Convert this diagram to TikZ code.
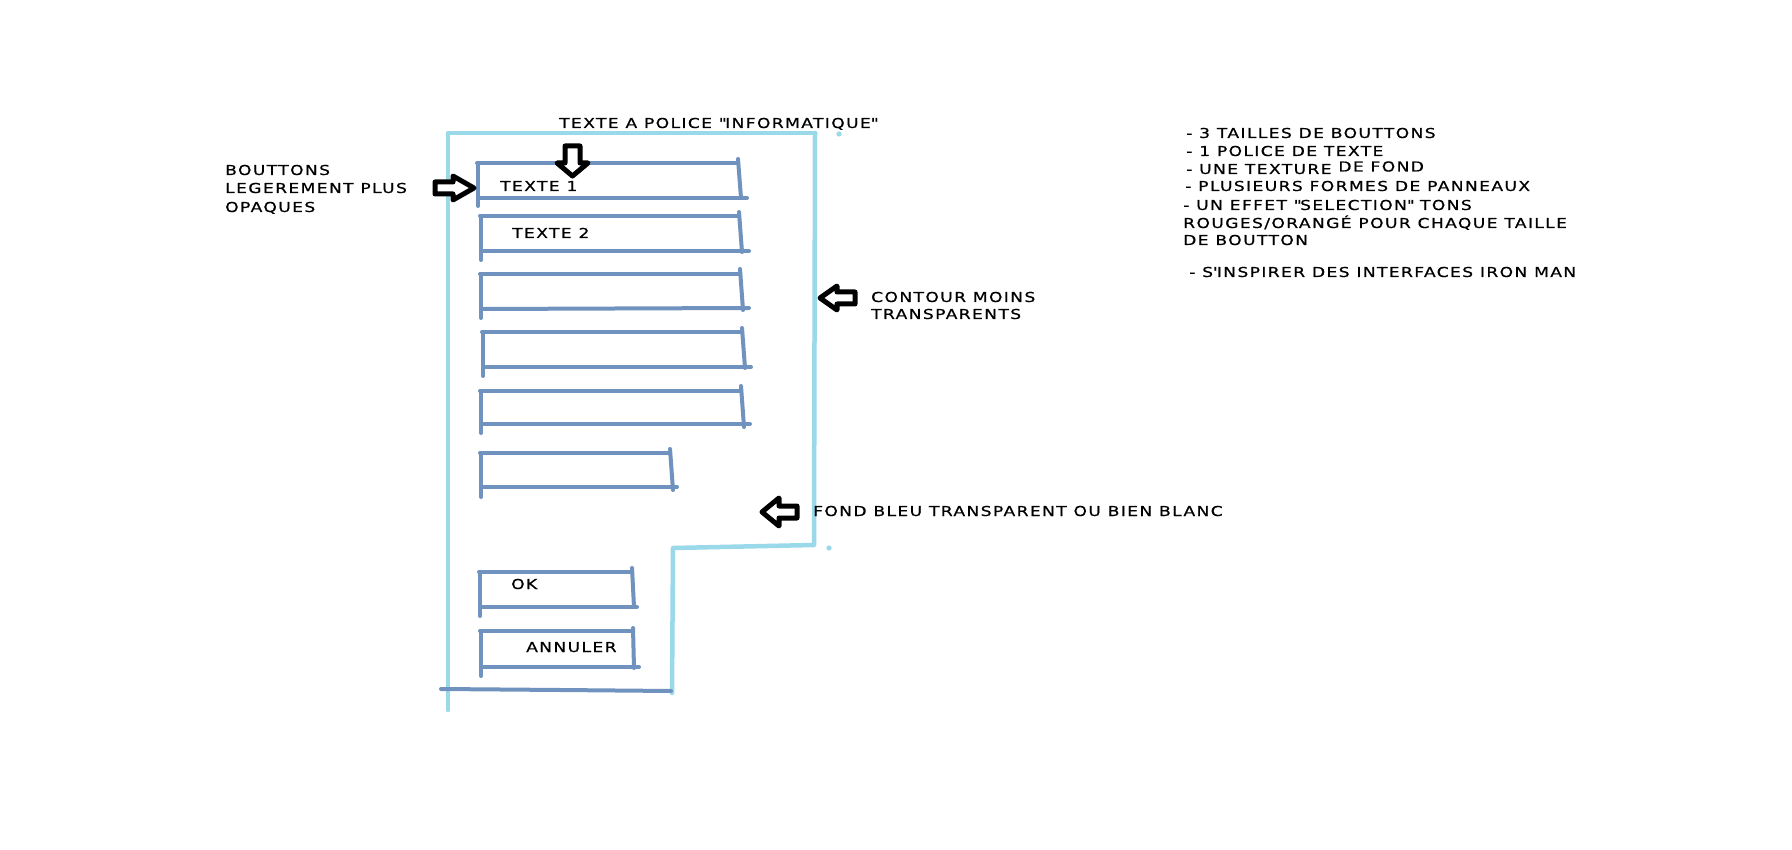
\documentclass[tikz,border=0pt]{standalone}
\usepackage{fontspec}
\setmainfont{DejaVu Sans}[FakeStretch=1.25,LetterSpace=10,FakeBold=0.6]
\definecolor{panelblue}{RGB}{153,217,234}
\definecolor{btnblue}{RGB}{112,146,190}
\tikzset{
  lbl/.style={anchor=west,inner sep=0pt,text height=10pt,text depth=0pt,font=\fontsize{13.7}{16}\selectfont,text=black},
  panel/.style={draw=panelblue,line width=4.5pt,line cap=round,line join=round},
  btn/.style={draw=btnblue,line width=4pt,line cap=round,line join=round},
  blockarrow/.style={draw=black,fill=white,line width=5pt,line join=round},
  dotmark/.style={fill=panelblue}
}
\newcommand{\qd}{\textquotedbl}
\begin{document}
\begin{tikzpicture}[x=1pt,y=-1pt]
\useasboundingbox (0,0) rectangle (1792,850);
\fill[white] (0,0) rectangle (1792,850);

% outer panel
\coordinate (p1) at (448,133);
\coordinate (p2) at (815,133);
\coordinate (p3) at (814,545);
\coordinate (p4) at (673,548);
\coordinate (p5) at (672,693);
\coordinate (p6) at (448,710);
\draw[panel] (p6) -- (p1) -- (p2);
\draw[panel] (p2) -- (p3) -- (p4) -- (p5);
\fill[dotmark] (839,134) circle (2.6);
\fill[dotmark] (829,548) circle (2.6);
\draw[btn] (441,689) -- (560,690) -- (671,691);

% buttons
% B1
\draw[btn] (477,163) -- (738,163);
\draw[btn] (738,159) -- (741,198);
\draw[btn] (478,198) -- (747,198);
\draw[btn] (478,163) -- (478,206);
% B2
\draw[btn] (480,216) -- (739,216);
\draw[btn] (739,212) -- (742,252);
\draw[btn] (481,251) -- (749,251);
\draw[btn] (481,216) -- (481,260);
% B3
\draw[btn] (480,274) -- (740,274);
\draw[btn] (740,269) -- (743,310);
\draw[btn] (481,309) -- (749,308);
\draw[btn] (481,274) -- (481,318);
% B4
\draw[btn] (482,332) -- (742,332);
\draw[btn] (742,328) -- (745,368);
\draw[btn] (483,367) -- (751,367);
\draw[btn] (483,332) -- (483,376);
% B5
\draw[btn] (480,391) -- (741,391);
\draw[btn] (741,386) -- (744,427);
\draw[btn] (481,424) -- (750,424);
\draw[btn] (481,391) -- (481,433);
% B6
\draw[btn] (480,453) -- (670,453);
\draw[btn] (670,449) -- (673,490);
\draw[btn] (481,487) -- (677,487);
\draw[btn] (481,453) -- (481,497);
% OK
\draw[btn] (479,572) -- (632,572);
\draw[btn] (632,568) -- (634,607);
\draw[btn] (480,607) -- (637,607);
\draw[btn] (480,572) -- (480,616);
% ANNULER
\draw[btn] (480,631) -- (632,631);
\draw[btn] (633,628) -- (634,668);
\draw[btn] (481,667) -- (639,667);
\draw[btn] (481,631) -- (481,676);

% texts
\node[lbl] (t1) at (500,186) {TEXTE 1};
\node[lbl] (t2) at (512,233) {TEXTE 2};
\node[lbl] (tok) at (511,584) {OK};
\node[lbl] (tann) at (526,647) {ANNULER};
\node[lbl] (police) at (559,123) {TEXTE A POLICE \qd INFORMATIQUE\qd};
\node[lbl] (bt1) at (225,170) {BOUTTONS};
\node[lbl] (bt2) at (225,188) {LEGEREMENT PLUS};
\node[lbl] (bt3) at (225,207) {OPAQUES};
\node[lbl] (ct1) at (871,297) {CONTOUR MOINS};
\node[lbl] (ct2) at (871,314) {TRANSPARENTS};
\node[lbl] (fond) at (813,511) {FOND BLEU TRANSPARENT OU BIEN BLANC};
\node[lbl] (r1) at (1186,133) {- 3 TAILLES DE BOUTTONS};
\node[lbl] (r2) at (1186,151) {- 1 POLICE DE TEXTE};
\node[lbl] (r3) at (1186,169) {- UNE TEXTURE \raisebox{2.5pt}{DE FOND}};
\node[lbl] (r4) at (1185,186) {- PLUSIEURS FORMES DE PANNEAUX};
\node[lbl] (r5) at (1183,205) {- UN EFFET \qd SELECTION\qd{} TONS};
\node[lbl] (r6) at (1183,223) {ROUGES/ORANGÉ POUR CHAQUE TAILLE};
\node[lbl] (r7) at (1183,240) {DE BOUTTON};
\node[lbl] (r8) at (1189,272) {- S\textquotesingle INSPIRER DES INTERFACES IRON MAN};

% block arrows
\draw[blockarrow] (565,146) -- (580,146) -- (580,163) -- (588,163) -- (572.5,176) -- (557,163) -- (565,163) -- cycle;
\draw[blockarrow] (435,182) -- (453,182) -- (453,176) -- (474,188) -- (453,200) -- (453,194) -- (435,194) -- cycle;
\draw[blockarrow] (820,298) -- (837,286) -- (837,292) -- (855,292) -- (855,304) -- (837,304) -- (837,310) -- cycle;
\draw[blockarrow] (762,512) -- (779,498) -- (779,506) -- (797,506) -- (797,518) -- (779,518) -- (779,526) -- cycle;
\end{tikzpicture}
\end{document}
